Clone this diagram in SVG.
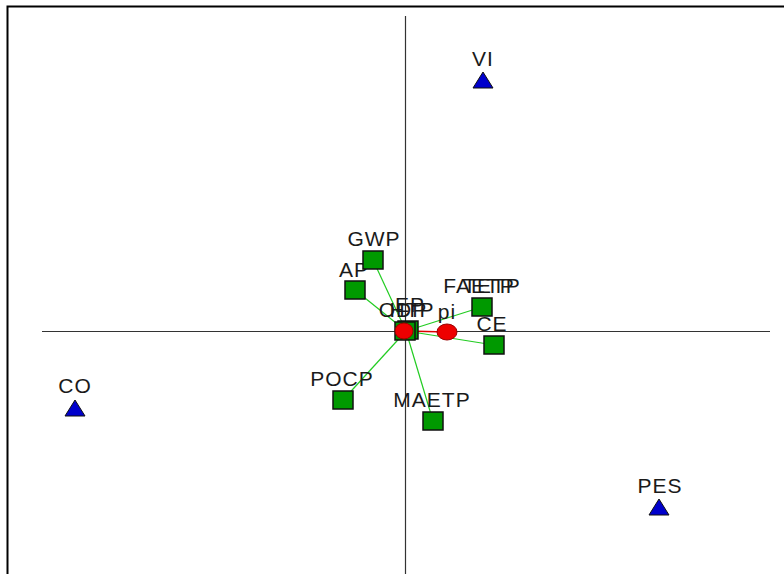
<svg xmlns="http://www.w3.org/2000/svg" width="784" height="574" viewBox="0 0 784 574">
<style>
text{font-family:"Liberation Sans",Arial,sans-serif;font-size:21px;letter-spacing:1px;fill:#1a1a1a;text-anchor:middle}
.sq{fill:#009900;stroke:#111;stroke-width:1.5}
.tri{fill:#0000cc;stroke:#111;stroke-width:1}
.ci{fill:#ee0000;stroke:#990000;stroke-width:1}
.ln{stroke:#22cc22;stroke-width:1.2}
.ax{stroke:#333;stroke-width:1.2}
</style>
<rect width="784" height="574" fill="#fff"/>
<path d="M7.5 574 V6.5 H784" fill="none" stroke="#000" stroke-width="2"/>
<g id="axes">
<line class="ax" x1="405.5" y1="16" x2="405.5" y2="574"/>
<line class="ax" x1="42" y1="331.5" x2="770" y2="331.5"/>
</g>
<g id="connectors">
<line class="ln" x1="406" y1="331" x2="373" y2="260"/>
<line class="ln" x1="406" y1="331" x2="355" y2="290"/>
<line class="ln" x1="406" y1="331" x2="482" y2="307"/>
<line class="ln" x1="406" y1="331" x2="494" y2="345"/>
<line class="ln" x1="406" y1="331" x2="343" y2="400"/>
<line class="ln" x1="406" y1="331" x2="433" y2="421"/>
<line x1="406" y1="331" x2="447" y2="332" stroke="#dd0000" stroke-width="1.5"/>
</g>
<g id="VI"><text x="483" y="66">VI</text><polygon class="tri" points="483,72 493,88 473,88"/></g>
<g id="CO"><text x="75" y="393">CO</text><polygon class="tri" points="75,400 85,416 65,416"/></g>
<g id="PES"><text x="660" y="493">PES</text><polygon class="tri" points="659,499 669,515 649,515"/></g>
<g id="AP"><text x="354" y="277">AP</text><rect class="sq" x="345" y="281" width="20" height="18"/></g>
<g id="GWP"><text x="374" y="246">GWP</text><rect class="sq" x="363" y="251" width="20" height="18"/></g>
<g id="FAETP"><text x="479" y="293">FAETP</text><text x="492" y="293">TETP</text><rect class="sq" x="472" y="298" width="20" height="18"/></g>
<g id="CE"><text x="492" y="331">CE</text><rect class="sq" x="484" y="336" width="20" height="18"/></g>
<g id="POCP"><text x="342" y="386">POCP</text><rect class="sq" x="333" y="391" width="20" height="18"/></g>
<g id="MAETP"><text x="432" y="407">MAETP</text><rect class="sq" x="423" y="412" width="20" height="18"/></g>
<g id="center">
<text x="410" y="312">EP</text><text x="403" y="317">ODP</text><text x="412" y="317">HTP</text>
<rect class="sq" x="398" y="321" width="20" height="18"/>
<rect class="sq" x="395" y="322" width="20" height="18"/>
<ellipse class="ci" cx="404" cy="331" rx="9" ry="8"/>
</g>
<g id="pi"><text x="447" y="319">pi</text><ellipse class="ci" cx="447" cy="332" rx="10" ry="8"/></g>
</svg>
